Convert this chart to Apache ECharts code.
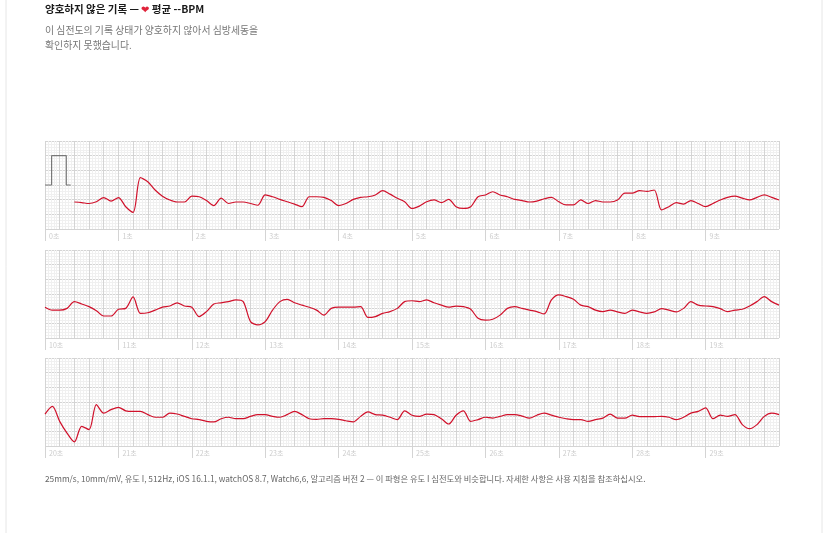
<!DOCTYPE html>
<html>
<head>
<meta charset="utf-8">
<script src="https://cdn.jsdelivr.net/npm/echarts@6/dist/echarts.min.js"></script>
<style>
  html, body { margin: 0; padding: 0; background: #fff; }
  #main { width: 828px; height: 533px; }
</style>
</head>
<body>
<div id="main"></div>
<script>
// ECG samples in mV, one every 0.1 s
var strip1Start = 0.4;
var strip1 = [-0.58,-0.60,-0.63,-0.57,-0.43,-0.55,
  -0.43,-0.74,-0.93,0.25,0.11,-0.17,-0.38,-0.51,-0.58,-0.58,
  -0.38,-0.40,-0.53,-0.70,-0.45,-0.63,-0.58,-0.58,-0.63,-0.69,
  -0.34,-0.40,-0.49,-0.57,-0.65,-0.74,-0.40,-0.40,-0.42,-0.53,
  -0.70,-0.63,-0.49,-0.42,-0.40,-0.34,-0.19,-0.31,-0.45,-0.57,
  -0.80,-0.72,-0.57,-0.51,-0.60,-0.49,-0.74,-0.80,-0.74,-0.40,
  -0.34,-0.23,-0.34,-0.40,-0.49,-0.53,-0.58,-0.55,-0.47,-0.42,
  -0.57,-0.68,-0.68,-0.51,-0.63,-0.53,-0.58,-0.58,-0.51,-0.28,
  -0.28,-0.19,-0.22,-0.17,-0.85,-0.74,-0.60,-0.65,-0.53,-0.63,
  -0.74,-0.63,-0.51,-0.42,-0.38,-0.45,-0.51,-0.42,-0.34,-0.42,
  -0.51];
var strip2Start = 10;
var strip2 = [-0.45,-0.55,-0.55,-0.49,-0.26,-0.34,-0.43,-0.57,-0.75,-0.75,
  -0.52,-0.49,-0.10,-0.66,-0.64,-0.55,-0.45,-0.41,-0.30,-0.41,
  -0.45,-0.77,-0.60,-0.34,-0.30,-0.26,-0.20,-0.26,-0.94,-1.05,
  -0.94,-0.55,-0.26,-0.18,-0.30,-0.38,-0.45,-0.55,-0.72,-0.49,
  -0.45,-0.45,-0.45,-0.43,-0.80,-0.77,-0.66,-0.60,-0.49,-0.26,
  -0.23,-0.26,-0.20,-0.30,-0.38,-0.45,-0.41,-0.43,-0.52,-0.83,
  -0.89,-0.86,-0.72,-0.49,-0.43,-0.49,-0.55,-0.60,-0.68,-0.20,
  -0.03,-0.09,-0.18,-0.38,-0.43,-0.55,-0.60,-0.55,-0.61,-0.66,
  -0.55,-0.61,-0.66,-0.61,-0.50,-0.55,-0.61,-0.49,-0.26,-0.38,
  -0.41,-0.43,-0.50,-0.60,-0.55,-0.52,-0.41,-0.26,-0.09,-0.26,
  -0.38];
var strip3Start = 20;
var strip3 = [-0.41,-0.15,-0.66,-1.06,-1.36,-0.83,-0.94,-0.09,-0.38,-0.26,
  -0.18,-0.30,-0.32,-0.32,-0.43,-0.52,-0.52,-0.38,-0.41,-0.49,
  -0.57,-0.60,-0.66,-0.68,-0.57,-0.52,-0.57,-0.57,-0.49,-0.43,
  -0.43,-0.49,-0.52,-0.43,-0.32,-0.43,-0.57,-0.59,-0.57,-0.57,
  -0.59,-0.64,-0.68,-0.49,-0.34,-0.43,-0.45,-0.52,-0.60,-0.30,
  -0.45,-0.49,-0.41,-0.43,-0.57,-0.75,-0.45,-0.30,-0.66,-0.60,
  -0.52,-0.55,-0.49,-0.43,-0.43,-0.48,-0.55,-0.45,-0.38,-0.45,
  -0.52,-0.57,-0.60,-0.60,-0.66,-0.60,-0.55,-0.41,-0.55,-0.55,
  -0.45,-0.50,-0.50,-0.50,-0.49,-0.52,-0.60,-0.52,-0.38,-0.32,
  -0.20,-0.57,-0.45,-0.49,-0.43,-0.77,-0.91,-0.77,-0.49,-0.38,
  -0.43];
// calibration pulse (1 mV)
var calT = [0, 0.09, 0.09, 0.29, 0.29, 0.35];
var calV = [0, 0, 1, 1, 0, 0];

var myChart = echarts.init(document.getElementById('main'));
var red = '#d0112b';
var font = '"Noto Sans CJK KR", "Noto Sans", sans-serif';

function toPairs(start, vals) {
  return vals.map(function (v, i) { return [+(start + i * 0.1).toFixed(2), v]; });
}

var tops = [141, 250, 358];
var starts = [0, 10, 20];
var strips = [toPairs(strip1Start, strip1), toPairs(strip2Start, strip2), toPairs(strip3Start, strip3)];

var grids = [], xAxes = [], yAxes = [], series = [];
tops.forEach(function (top, i) {
  grids.push({ left: 45, width: 734, top: top, height: 88 });
  xAxes.push({
    type: 'value', gridIndex: i, min: starts[i], max: starts[i] + 10, interval: 0.2,
    axisLine: { show: false }, axisTick: { show: false }, axisLabel: { show: false },
    splitLine: { show: true, lineStyle: { color: '#d4d4d4', width: 1 } },
    minorTick: { show: false, splitNumber: 5 },
    minorSplitLine: { show: true, lineStyle: { color: '#f0f0f0', width: 1 } }
  });
  xAxes.push({
    type: 'value', gridIndex: i, min: starts[i], max: starts[i] + 10, interval: 1,
    position: 'bottom',
    axisLine: { show: false },
    axisTick: { show: true, length: 12, lineStyle: { color: '#d4d4d4' } },
    axisLabel: { show: true, showMaxLabel: false, align: 'left', margin: 4, padding: [0, 0, 0, 4],
      fontSize: 7, color: '#cccccc', fontFamily: font,
      formatter: function (v) { return v + '초'; } },
    splitLine: { show: false }
  });
  yAxes.push({
    type: 'value', gridIndex: i, min: -1.5, max: 1.5, interval: 0.5,
    axisLine: { show: false }, axisTick: { show: false }, axisLabel: { show: false },
    splitLine: { show: true, lineStyle: { color: '#d4d4d4', width: 1 } },
    minorTick: { show: false, splitNumber: 5 },
    minorSplitLine: { show: true, lineStyle: { color: '#f0f0f0', width: 1 } }
  });
  series.push({
    type: 'line', xAxisIndex: i * 2, yAxisIndex: i, data: strips[i],
    showSymbol: false, smooth: 0.3, silent: true,
    lineStyle: { color: red, width: 1.2 }
  });
});
series.push({
  type: 'line', xAxisIndex: 0, yAxisIndex: 0,
  data: calT.map(function (t, k) { return [t, calV[k]]; }),
  showSymbol: false, silent: true, lineStyle: { color: '#777', width: 1.2 }
});

var option = {
  animation: false,
  backgroundColor: '#fff',
  textStyle: { fontFamily: font },
  graphic: [
    { type: 'rect', shape: { x: 6, y: -2, width: 816, height: 540 }, style: { fill: 'none', stroke: '#e6e6e6' } },
    { type: 'text', left: 45, top: 4, style: {
      text: '{b|양호하지 않은 기록 — }{h|❤}{b| 평균 --BPM}',
      rich: { b: { fontSize: 10.5, fontWeight: 'bold', fill: '#1a1a1a', fontFamily: font },
              h: { fontSize: 10, fill: '#e0243b', fontFamily: font } } } },
    { type: 'text', left: 45, top: 23, style: { text: '이 심전도의 기록 상태가 양호하지 않아서 심방세동을\n확인하지 못했습니다.',
      fontSize: 9.9, lineHeight: 15, fill: '#777', fontFamily: font } },
    { type: 'text', left: 45, top: 475, style: { text: '25mm/s, 10mm/mV, 유도 I, 512Hz, iOS 16.1.1, watchOS 8.7, Watch6,6, 알고리즘 버전 2 — 이 파형은 유도 I 심전도와 비슷합니다. 자세한 사항은 사용 지침을 참조하십시오.',
      fontSize: 8.3, fill: '#666', fontFamily: font } }
  ],
  grid: grids,
  xAxis: xAxes,
  yAxis: yAxes,
  series: series
};
myChart.setOption(option);
</script>
</body>
</html>
